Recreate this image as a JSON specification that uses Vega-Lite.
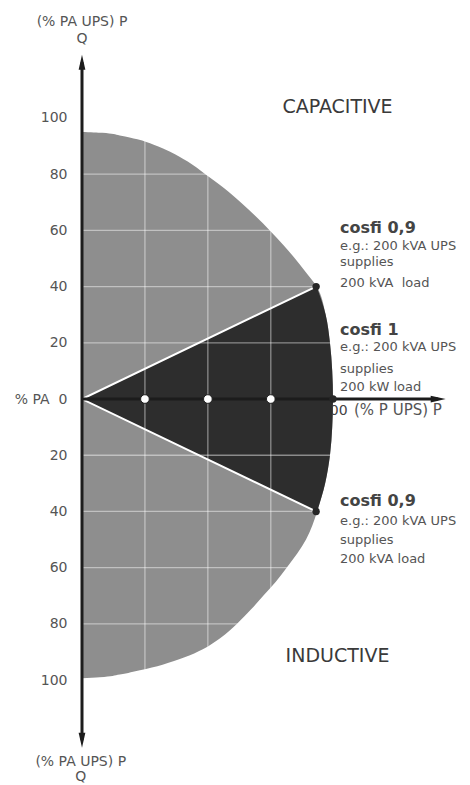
{
  "$schema": "https://vega.github.io/schema/vega-lite/v6.json",
  "width": 365,
  "height": 692,
  "autosize": "none",
  "padding": {"left": 82, "top": 55, "right": 23, "bottom": 38},
  "background": "white",
  "config": {"view": {"stroke": null}, "font": "DejaVu Sans"},
  "datasets": {
    "boundary": [
      {"P": 0, "Q": 95}, {"P": 8, "Q": 94.7}, {"P": 15, "Q": 93.8}, {"P": 22, "Q": 92.4},
      {"P": 28.5, "Q": 90.5}, {"P": 35, "Q": 88}, {"P": 42, "Q": 84.5}, {"P": 49, "Q": 80},
      {"P": 56.5, "Q": 75}, {"P": 63, "Q": 70}, {"P": 69, "Q": 65}, {"P": 74.6, "Q": 60},
      {"P": 79.8, "Q": 55}, {"P": 84.6, "Q": 50}, {"P": 89, "Q": 45}, {"P": 93.2, "Q": 40},
      {"P": 96.8, "Q": 30}, {"P": 98.5, "Q": 20}, {"P": 99.4, "Q": 10}, {"P": 99.7, "Q": 0},
      {"P": 99.4, "Q": -10}, {"P": 98.5, "Q": -20}, {"P": 96.6, "Q": -30}, {"P": 93.4, "Q": -40},
      {"P": 91.5, "Q": -45}, {"P": 89, "Q": -50}, {"P": 85.5, "Q": -55}, {"P": 81.3, "Q": -60},
      {"P": 77, "Q": -65}, {"P": 72, "Q": -70}, {"P": 67, "Q": -75}, {"P": 61.5, "Q": -80},
      {"P": 55, "Q": -85}, {"P": 48, "Q": -89}, {"P": 40.5, "Q": -92}, {"P": 32, "Q": -94.5},
      {"P": 23, "Q": -96.5}, {"P": 15, "Q": -98}, {"P": 7, "Q": -99}, {"P": 0, "Q": -99.3}
    ],
    "bowtie": [
      {"P": 93, "Q": -40}, {"P": 0, "Q": 0}, {"P": 93, "Q": 40}
    ],
    "cover": [
      {"P": 93.4, "Q": -40.8}, {"P": 93, "Q": -40}, {"P": 0, "Q": 0}, {"P": 93, "Q": 40}, {"P": 93.4, "Q": 40.8}
    ],
    "gridQ": [
      {"Q": -80}, {"Q": -60}, {"Q": -40}, {"Q": -20}, {"Q": 20}, {"Q": 40}, {"Q": 60}, {"Q": 80}
    ],
    "gridP": [{"P": 25}, {"P": 50}, {"P": 75}],
    "axisLines": [
      {"P": 0, "Q": -121.4, "P2": 0, "Q2": 119.8},
      {"P": 0, "Q": 0, "P2": 141.5, "Q2": 0}
    ],
    "arrowUp": [{"P": 0, "Q": 119.8}],
    "arrowRight": [{"P": 141.5, "Q": 0}],
    "arrowDown": [{"P": 0, "Q": -121.4}],
    "corners": [{"P": 93, "Q": 40}, {"P": 93, "Q": -40}, {"P": 99.7, "Q": 0}],
    "markers": [{"P": 25, "Q": 0}, {"P": 50, "Q": 0}, {"P": 75, "Q": 0}],
    "axisTitles": [
      {"P": 0, "Q": 132.7, "label": "(% PA UPS) P"},
      {"P": 0, "Q": 126.6, "label": "Q"},
      {"P": -0.5, "Q": -130.6, "label": "(% PA UPS) P"},
      {"P": -0.5, "Q": -135.9, "label": "Q"}
    ],
    "pTitle": [
      {"P": 125.5, "Q": -5.7, "label": "(% P UPS) P"}
    ],
    "regions": [
      {"P": 101.5, "Q": 101.7, "label": "CAPACITIVE"},
      {"P": 101.5, "Q": -93.4, "label": "INDUCTIVE"}
    ],
    "noteTitles": [
      {"P": 102.5, "Q": 58.9, "label": "cosfi 0,9"},
      {"P": 102.5, "Q": 22.9, "label": "cosfi 1"},
      {"P": 102.5, "Q": -37.9, "label": "cosfi 0,9"}
    ],
    "noteBody": [
      {"P": 102.5, "Q": 53.2, "label": "e.g.: 200 kVA UPS"},
      {"P": 102.5, "Q": 47.4, "label": "supplies"},
      {"P": 102.5, "Q": 40.0, "label": "200 kVA\u00a0 load"},
      {"P": 102.5, "Q": 17.2, "label": "e.g.: 200 kVA UPS"},
      {"P": 102.5, "Q": 9.3, "label": "supplies"},
      {"P": 102.5, "Q": 3.0, "label": "200 kW load"},
      {"P": 102.5, "Q": -44.8, "label": "e.g.: 200 kVA UPS"},
      {"P": 102.5, "Q": -51.6, "label": "supplies"},
      {"P": 102.5, "Q": -58.3, "label": "200 kVA load"}
    ]
  },
  "layer": [
    {
      "encoding": {
        "x": {
          "field": "P", "type": "quantitative", "stack": null,
          "scale": {"domain": [0, 145], "nice": false, "zero": false},
          "axis": {
            "title": null, "orient": "bottom", "offset": -348, "values": [25, 50, 75, 100],
            "domain": false, "ticks": false, "tickSize": 0, "grid": false,
            "labelPadding": 4, "labelFontSize": 14, "labelColor": "#444444", "labelFont": "DejaVu Sans", "zindex": 0
          }
        },
        "y": {
          "field": "Q", "type": "quantitative", "stack": null,
          "scale": {"domain": [-123.8, 122.4], "nice": false, "zero": false},
          "axis": {
            "title": null, "orient": "left", "values": [-100, -80, -60, -40, -20, 0, 20, 40, 60, 80, 100],
            "labelExpr": "datum.value == 0 ? '% PA\u00a0\u00a00' : '' + abs(datum.value)",
            "domain": false, "ticks": false, "tickSize": 0, "grid": false,
            "labelPadding": 15, "labelFontSize": 14, "labelColor": "#555555", "labelFont": "DejaVu Sans", "labelBaseline": "middle"
          }
        }
      },
      "layer": [
        {
          "data": {"name": "boundary"},
          "mark": {"type": "area", "orient": "horizontal", "interpolate": "monotone", "color": "#8e8e8e"}
        },
        {
          "data": {"name": "boundary"},
          "transform": [{"filter": "datum.Q >= -40 && datum.Q <= 40"}],
          "mark": {"type": "area", "orient": "horizontal", "interpolate": "monotone", "color": "#2d2d2d"}
        },
        {
          "data": {"name": "cover"},
          "mark": {"type": "area", "orient": "horizontal", "interpolate": "linear", "color": "#8e8e8e"}
        }
      ]
    },
    {
      "data": {"name": "gridQ"},
      "mark": {"type": "rule", "color": "#ffffff", "opacity": 0.45, "strokeWidth": 1.3},
      "encoding": {
        "y": {
          "field": "Q", "type": "quantitative",
          "scale": {"domain": [-123.8, 122.4], "nice": false, "zero": false},
          "axis": {
            "title": null, "orient": "left", "values": [-100, -80, -60, -40, -20, 0, 20, 40, 60, 80, 100],
            "labelExpr": "datum.value == 0 ? '% PA\u00a0\u00a00' : '' + abs(datum.value)",
            "domain": false, "ticks": false, "tickSize": 0, "grid": false,
            "labelPadding": 15, "labelFontSize": 14, "labelColor": "#555555", "labelFont": "DejaVu Sans", "labelBaseline": "middle"
          }
        }
      }
    },
    {
      "data": {"name": "gridP"},
      "mark": {"type": "rule", "color": "#ffffff", "opacity": 0.45, "strokeWidth": 1.3},
      "encoding": {
        "x": {
          "field": "P", "type": "quantitative",
          "scale": {"domain": [0, 145], "nice": false, "zero": false},
          "axis": {
            "title": null, "orient": "bottom", "offset": -348, "values": [25, 50, 75, 100],
            "domain": false, "ticks": false, "tickSize": 0, "grid": false,
            "labelPadding": 4, "labelFontSize": 14, "labelColor": "#444444", "labelFont": "DejaVu Sans", "zindex": 0
          }
        }
      }
    },
    {
      "encoding": {
        "x": {
          "field": "P", "type": "quantitative", "stack": null,
          "scale": {"domain": [0, 145], "nice": false, "zero": false},
          "axis": {
            "title": null, "orient": "bottom", "offset": -348, "values": [25, 50, 75, 100],
            "domain": false, "ticks": false, "tickSize": 0, "grid": false,
            "labelPadding": 4, "labelFontSize": 14, "labelColor": "#444444", "labelFont": "DejaVu Sans", "zindex": 0
          }
        },
        "y": {
          "field": "Q", "type": "quantitative", "stack": null,
          "scale": {"domain": [-123.8, 122.4], "nice": false, "zero": false},
          "axis": {
            "title": null, "orient": "left", "values": [-100, -80, -60, -40, -20, 0, 20, 40, 60, 80, 100],
            "labelExpr": "datum.value == 0 ? '% PA\u00a0\u00a00' : '' + abs(datum.value)",
            "domain": false, "ticks": false, "tickSize": 0, "grid": false,
            "labelPadding": 15, "labelFontSize": 14, "labelColor": "#555555", "labelFont": "DejaVu Sans", "labelBaseline": "middle"
          }
        }
      },
      "layer": [
        {
          "data": {"name": "bowtie"},
          "mark": {"type": "line", "color": "white", "strokeWidth": 2},
          "encoding": {"order": {"field": "Q", "type": "quantitative"}}
        },
        {
          "data": {"name": "axisLines"},
          "mark": {"type": "rule", "color": "#1c1c1c", "strokeWidth": 3},
          "encoding": {"x2": {"field": "P2"}, "y2": {"field": "Q2"}}
        },
        {
          "data": {"name": "arrowUp"},
          "mark": {"type": "point", "filled": true, "opacity": 1, "color": "#1c1c1c", "size": 225, "shape": "M0,-1L0.45,1L-0.45,1Z"}
        },
        {
          "data": {"name": "arrowRight"},
          "mark": {"type": "point", "filled": true, "opacity": 1, "color": "#1c1c1c", "size": 225, "shape": "M1,0L-1,0.45L-1,-0.45Z"}
        },
        {
          "data": {"name": "arrowDown"},
          "mark": {"type": "point", "filled": true, "opacity": 1, "color": "#1c1c1c", "size": 225, "shape": "M0,1L0.45,-1L-0.45,-1Z"}
        },
        {
          "data": {"name": "corners"},
          "mark": {"type": "point", "filled": true, "opacity": 1, "color": "#262626", "size": 55, "shape": "circle"}
        },
        {
          "data": {"name": "markers"},
          "mark": {"type": "point", "filled": true, "opacity": 1, "fill": "white", "stroke": "#222222", "strokeWidth": 1, "size": 75, "shape": "circle"}
        },
        {
          "data": {"name": "axisTitles"},
          "mark": {"type": "text", "font": "DejaVu Sans", "fontSize": 14, "color": "#555555", "align": "center", "baseline": "alphabetic"},
          "encoding": {"text": {"field": "label"}}
        },
        {
          "data": {"name": "pTitle"},
          "mark": {"type": "text", "font": "DejaVu Sans", "fontSize": 15, "color": "#555555", "align": "center", "baseline": "alphabetic"},
          "encoding": {"text": {"field": "label"}}
        },
        {
          "data": {"name": "regions"},
          "mark": {"type": "text", "font": "DejaVu Sans", "fontSize": 19, "color": "#3a3a3a", "align": "center", "baseline": "alphabetic"},
          "encoding": {"text": {"field": "label"}}
        },
        {
          "data": {"name": "noteTitles"},
          "mark": {"type": "text", "font": "DejaVu Sans", "fontSize": 16, "fontWeight": "bold", "color": "#444444", "align": "left", "baseline": "alphabetic"},
          "encoding": {"text": {"field": "label"}}
        },
        {
          "data": {"name": "noteBody"},
          "mark": {"type": "text", "font": "DejaVu Sans", "fontSize": 13, "color": "#555555", "align": "left", "baseline": "alphabetic"},
          "encoding": {"text": {"field": "label"}}
        }
      ]
    }
  ]
}
